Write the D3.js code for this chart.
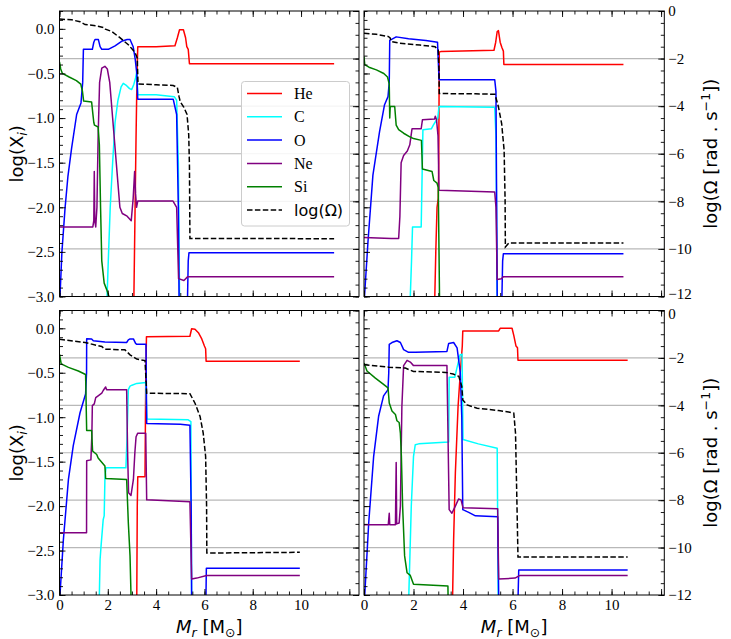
<!DOCTYPE html>
<html>
<head>
<meta charset="utf-8">
<script src="https://cdn.jsdelivr.net/npm/d3@7"></script>
<style>
  body { margin: 0; background: #fff; }
</style>
</head>
<body>
<svg id="chart" width="731" height="639"></svg>
<script>
// ---- top left model ----
const heTL = [[3.08,-3],[3.12,-2.2],[3.17,-1.2],[3.21,-0.5],[3.24,-0.2],[4.0,-0.2],[4.78,-0.19],[4.88,-0.1],[4.97,-0.01],[5.13,-0.01],[5.22,-0.1],[5.27,-0.2],[5.33,-0.23],[5.38,-0.39],[11.37,-0.39]];
const cTL = [[1.97,-3],[2.02,-2.6],[2.1,-2.0],[2.2,-1.5],[2.3,-1.05],[2.42,-0.8],[2.55,-0.65],[2.64,-0.61],[2.75,-0.63],[2.9,-0.67],[2.99,-0.68],[3.08,-0.62],[3.15,-0.55],[3.2,-0.48],[3.24,-0.74],[4.0,-0.74],[4.75,-0.76],[4.85,-0.8],[4.92,-1.5],[4.97,-3],[5.0,-3.3]];
const oTL = [[0.0,-3.2],[0.02,-3],[0.1,-2.5],[0.23,-2.01],[0.35,-1.65],[0.5,-1.34],[0.71,-0.96],[0.89,-0.83],[0.96,-0.6],[0.99,-0.23],[1.36,-0.23],[1.42,-0.15],[1.47,-0.12],[1.61,-0.12],[1.68,-0.2],[1.75,-0.23],[2.02,-0.23],[2.3,-0.19],[2.57,-0.14],[2.8,-0.12],[2.92,-0.12],[3.05,-0.2],[3.13,-0.33],[3.2,-0.5],[3.24,-0.79],[4.71,-0.79],[4.85,-0.96],[4.92,-2.0],[4.95,-3],[5.0,-3.3],[5.28,-3.3],[5.33,-2.6],[5.36,-2.51],[11.37,-2.51]];
const neTL = [[0,-2.22],[1.38,-2.22],[1.42,-2.15],[1.44,-1.6],[1.46,-2.15],[1.5,-2.22],[1.55,-2.0],[1.6,-1.2],[1.66,-0.6],[1.75,-0.44],[1.88,-0.42],[1.98,-0.45],[2.08,-0.6],[2.2,-1.0],[2.35,-1.5],[2.5,-2.0],[2.6,-2.07],[2.8,-2.1],[2.97,-2.15],[3.05,-1.9],[3.11,-1.6],[3.15,-1.85],[3.19,-2.0],[3.24,-1.93],[4.7,-1.93],[4.85,-2.0],[4.93,-2.8],[5.15,-2.82],[5.3,-2.78],[11.37,-2.78]];
const siTL = [[0,-0.37],[0.05,-0.45],[0.12,-0.5],[0.4,-0.54],[0.7,-0.58],[0.88,-0.62],[0.95,-0.7],[1.0,-0.81],[1.33,-0.82],[1.38,-0.95],[1.42,-1.05],[1.45,-1.08],[1.6,-1.1],[1.65,-1.3],[1.7,-2.0],[1.75,-2.6],[1.85,-2.85],[1.95,-2.92],[2.05,-3.0],[2.1,-3.3]];
const omTL = [[0,-0.34],[0.5,-0.37],[0.85,-0.45],[0.95,-0.51],[1.06,-0.57],[1.5,-0.62],[1.85,-0.7],[1.9,-0.76],[2.16,-0.86],[2.5,-1.12],[2.85,-1.42],[3.05,-1.65],[3.15,-1.8],[3.22,-1.98],[3.25,-3.07],[4.0,-3.1],[4.71,-3.13],[4.88,-3.22],[4.95,-3.6],[5.0,-3.82],[5.15,-4.05],[5.28,-4.35],[5.35,-5.2],[5.38,-6.5],[5.4,-9.56],[11.37,-9.57]];

// ---- top right model ----
const heTR = [[2.86,-3],[2.9,-2.5],[2.95,-2.0],[3.0,-1.9],[3.02,-1.5],[3.04,-0.26],[3.1,-0.255],[5.25,-0.24],[5.32,-0.15],[5.38,-0.03],[5.43,-0.02],[5.5,-0.15],[5.57,-0.21],[5.63,-0.25],[5.65,-0.40],[10.48,-0.40]];
const cTR = [[1.87,-3],[1.92,-2.6],[1.96,-2.22],[2.31,-2.22],[2.38,-1.13],[2.72,-1.12],[2.8,-1.08],[2.91,-1.03],[2.98,-1.0],[3.03,-0.87],[5.28,-0.88],[5.33,-1.2],[5.38,-3],[5.4,-3.3]];
const oTR = [[0.0,-3.2],[0.02,-3],[0.16,-2.39],[0.36,-1.64],[0.63,-1.15],[0.83,-0.85],[0.97,-0.76],[1.02,-0.6],[1.04,-0.13],[1.3,-0.09],[1.8,-0.11],[2.5,-0.13],[2.97,-0.15],[3.03,-0.57],[5.28,-0.57],[5.33,-0.7],[5.38,-3],[5.45,-3.3],[5.55,-3.3],[5.6,-2.6],[5.63,-2.52],[10.48,-2.52]];
const neTR = [[0,-2.34],[1.1,-2.35],[1.4,-2.35],[1.45,-2.1],[1.5,-1.5],[1.6,-1.42],[1.75,-1.37],[1.85,-1.3],[1.9,-1.2],[1.94,-1.12],[2.31,-1.12],[2.36,-1.02],[2.85,-1.01],[2.88,-0.98],[2.93,-1.02],[2.99,-1.2],[3.03,-1.81],[5.28,-1.83],[5.33,-2.0],[5.38,-2.81],[5.55,-2.8],[5.62,-2.78],[10.48,-2.78]];
const siTR = [[0,-0.31],[0.03,-0.40],[0.2,-0.43],[0.5,-0.46],[0.8,-0.5],[0.95,-0.54],[1.02,-0.62],[1.04,-1.0],[1.06,-0.87],[1.24,-0.87],[1.3,-1.08],[1.4,-1.13],[1.6,-1.17],[1.85,-1.21],[2.0,-1.23],[2.32,-1.25],[2.36,-1.57],[2.75,-1.6],[2.82,-1.7],[2.95,-1.73],[3.0,-1.78],[3.03,-2.5],[3.05,-3.0],[3.07,-3.3]];
const omTR = [[0,-0.93],[0.5,-0.98],[0.97,-1.07],[1.05,-1.12],[1.1,-1.28],[1.45,-1.36],[2.26,-1.43],[2.87,-1.5],[3.0,-1.64],[3.03,-2.5],[3.04,-3.47],[4.5,-3.48],[5.29,-3.5],[5.43,-4.03],[5.56,-4.73],[5.66,-5.85],[5.7,-8.0],[5.71,-9.92],[5.85,-9.75],[10.48,-9.75]];

// ---- bottom left model ----
const heBL = [[3.2,-3],[3.22,-2.0],[3.24,-1.67],[3.54,-1.67],[3.57,-0.6],[3.6,-0.094],[5.4,-0.09],[5.47,-0.005],[5.61,-0.01],[5.75,-0.05],[5.89,-0.12],[6.0,-0.2],[6.05,-0.23],[6.07,-0.37],[9.95,-0.37]];
const cBL = [[1.65,-3],[1.68,-2.6],[1.72,-2.45],[1.81,-2.15],[1.85,-2.11],[1.88,-1.7],[1.92,-1.57],[2.75,-1.57],[2.8,-1.2],[2.85,-0.69],[2.92,-0.65],[3.0,-0.64],[3.2,-0.62],[3.57,-0.61],[3.62,-1.02],[5.33,-1.03],[5.44,-1.05],[5.47,-3],[5.5,-3.3]];
const oBL = [[0.0,-3.2],[0.02,-3],[0.16,-2.38],[0.37,-1.70],[0.57,-1.32],[0.85,-0.95],[1.08,-0.74],[1.12,-0.5],[1.125,-0.117],[1.33,-0.12],[1.4,-0.14],[1.88,-0.155],[2.78,-0.16],[2.85,-0.13],[2.92,-0.12],[3.06,-0.12],[3.15,-0.17],[3.2,-0.18],[3.58,-0.18],[3.61,-1.07],[5.0,-1.08],[5.4,-1.09],[5.45,-2.0],[5.47,-3],[5.5,-3.3],[6.05,-3.3],[6.08,-2.7],[9.95,-2.7]];
const neBL = [[0,-2.30],[1.12,-2.30],[1.125,-1.49],[1.3,-1.48],[1.34,-1.2],[1.36,-0.87],[1.44,-0.85],[1.5,-0.78],[1.6,-0.76],[1.75,-0.73],[1.81,-0.7],[1.91,-0.66],[1.95,-0.69],[2.78,-0.69],[2.82,-1.4],[2.86,-1.85],[2.96,-1.88],[3.06,-1.7],[3.12,-1.4],[3.17,-1.22],[3.24,-1.18],[3.57,-1.18],[3.61,-1.93],[5.4,-1.95],[5.47,-2.82],[5.68,-2.81],[6.09,-2.78],[9.95,-2.78]];
const siBL = [[0,-0.29],[0.07,-0.40],[0.37,-0.44],[0.78,-0.48],[1.08,-0.52],[1.125,-1.15],[1.33,-1.15],[1.37,-1.38],[1.54,-1.42],[1.6,-1.46],[1.88,-1.55],[1.91,-1.69],[2.78,-1.70],[2.85,-2.19],[2.92,-2.56],[2.96,-3.0],[3.0,-3.3]];
const omBL = [[0,-1.21],[1.06,-1.35],[1.75,-1.52],[1.88,-1.63],[2.71,-1.66],[2.92,-1.87],[3.2,-2.05],[3.54,-2.11],[3.61,-3.49],[5.4,-3.51],[5.61,-3.91],[5.82,-4.47],[5.95,-5.17],[6.05,-6.16],[6.09,-8.26],[6.1,-10.23],[9.95,-10.2]];

// ---- bottom right model ----
const heBR = [[3.58,-3],[3.62,-2.38],[3.69,-1.63],[3.8,-0.88],[3.89,-0.5],[3.97,-0.2],[3.99,-0.03],[5.44,-0.03],[5.5,0.0],[5.98,0.0],[6.05,-0.08],[6.14,-0.2],[6.2,-0.22],[6.22,-0.36],[10.65,-0.36]];
const cBR = [[1.81,-3],[1.91,-2.0],[2.0,-1.44],[2.07,-1.31],[2.21,-1.3],[3.42,-1.28],[3.44,-0.55],[3.67,-0.55],[3.75,-0.45],[3.88,-0.3],[3.96,-0.29],[4.0,-1.25],[4.62,-1.3],[5.38,-1.35],[5.42,-3],[5.45,-3.3]];
const oBR = [[0.0,-3.2],[0.03,-3.0],[0.19,-2.19],[0.39,-1.44],[0.59,-0.99],[0.79,-0.76],[0.97,-0.69],[1.0,-0.5],[1.02,-0.18],[1.13,-0.16],[1.33,-0.14],[1.47,-0.16],[1.6,-0.24],[1.8,-0.27],[2.07,-0.27],[3.35,-0.26],[3.42,-0.17],[3.62,-0.16],[3.76,-0.22],[3.89,-0.5],[3.95,-1.0],[3.99,-2.04],[4.23,-2.07],[4.5,-2.11],[5.4,-2.12],[5.44,-3],[5.5,-3.3],[6.2,-3.3],[6.25,-2.72],[10.65,-2.72]];
const neBR = [[0,-2.21],[0.98,-2.21],[1.02,-2.08],[1.04,-2.21],[1.27,-2.21],[1.3,-1.51],[1.32,-2.2],[1.42,-2.19],[1.47,-2.0],[1.53,-0.88],[1.6,-0.42],[1.74,-0.36],[1.87,-0.38],[2.0,-0.42],[3.35,-0.42],[3.44,-2.04],[3.55,-2.08],[3.69,-2.0],[3.82,-1.92],[3.92,-1.93],[4.0,-2.02],[5.4,-2.03],[5.44,-2.82],[6.1,-2.81],[6.3,-2.78],[10.65,-2.78]];
const siBR = [[0,-0.39],[0.12,-0.48],[0.46,-0.56],[0.79,-0.63],[0.97,-0.67],[1.02,-0.84],[1.13,-0.93],[1.27,-0.97],[1.33,-1.04],[1.42,-1.06],[1.47,-1.18],[1.51,-1.44],[1.56,-2.0],[1.64,-2.56],[1.74,-2.75],[1.87,-2.78],[2.0,-2.88],[3.39,-2.9],[3.41,-3.3]];
const omBR = [[0,-2.29],[1.0,-2.39],[1.67,-2.43],[2.0,-2.57],[3.29,-2.61],[3.6,-2.68],[3.83,-2.78],[3.95,-3.2],[3.99,-3.77],[4.16,-3.98],[4.57,-4.12],[5.44,-4.22],[5.84,-4.28],[6.05,-4.33],[6.12,-5.17],[6.18,-8.26],[6.22,-10.4],[10.65,-10.4]];

// ---- species / ticks ----
const species = ['He', 'C', 'O', 'Ne', 'Si'];
const speciesColors = ['#ff0000', '#00ffff', '#0000ff', '#800080', '#008000'];
const xMajorTicks = [0, 2, 4, 6, 8, 10, 12];
const xTickLabels = [0, 2, 4, 6, 8, 10];
const abundTicks = [-3.0, -2.5, -2.0, -1.5, -1.0, -0.5, 0.0];
const omegaTicks = [-12, -10, -8, -6, -4, -2, 0];

const svg = d3.select('#chart');
const serif = "'Liberation Serif', 'Times New Roman', serif";
const sans = "'DejaVu Sans', sans-serif";

const panels = [
	{ id: 'tl', left: 59.5, right: 359, top: 11, bottom: 296.5, xMax: 12.4, curves: [heTL, cTL, oTL, neTL, siTL], omega: omTL, leftLabels: true, bottomLabels: false, legend: true },
	{ id: 'tr', left: 364, right: 664.3, top: 11, bottom: 296.5, xMax: 12.13, curves: [heTR, cTR, oTR, neTR, siTR], omega: omTR, leftLabels: false, bottomLabels: false },
	{ id: 'bl', left: 59.5, right: 359, top: 310.5, bottom: 595, xMax: 12.4, curves: [heBL, cBL, oBL, neBL, siBL], omega: omBL, leftLabels: true, bottomLabels: true },
	{ id: 'br', left: 364, right: 664.3, top: 310.5, bottom: 595, xMax: 12.13, curves: [heBR, cBR, oBR, neBR, siBR], omega: omBR, leftLabels: false, bottomLabels: true }
];

function range(a, b, step) {
	const out = [];
	for (let v = a; v <= b + 1e-9; v += step) out.push(Math.round(v * 100) / 100);
	return out;
}

function styleAxis(sel) {
	sel.select('.domain').remove();
	sel.selectAll('line').attr('stroke', '#000').attr('stroke-width', 0.9);
	sel.selectAll('text').attr('font-family', serif).attr('font-size', 15).attr('fill', '#000');
	return sel;
}

panels.forEach((p, k) => {
	const g = svg.append('g');
	const x = d3.scaleLinear().domain([0, p.xMax]).range([p.left, p.right]);
	const yL = d3.scaleLinear().domain([-3, 0.2]).range([p.bottom, p.top]);
	const yR = d3.scaleLinear().domain([-12, 0]).range([p.bottom, p.top]);

	// grid of the omega axis
	g.append('g').selectAll('line')
		.data(omegaTicks.filter(d => d > -12 && d < 0))
		.join('line')
		.attr('x1', p.left).attr('x2', p.right)
		.attr('y1', d => yR(d)).attr('y2', d => yR(d))
		.attr('stroke', '#b8b8b8').attr('stroke-width', 1.1);

	g.append('clipPath').attr('id', 'clip-' + p.id)
		.append('rect')
		.attr('x', p.left).attr('y', p.top)
		.attr('width', p.right - p.left).attr('height', p.bottom - p.top);

	const plot = g.append('g').attr('clip-path', `url(#clip-${p.id})`);
	const lineL = d3.line().x(d => x(d[0])).y(d => yL(d[1]));
	const lineR = d3.line().x(d => x(d[0])).y(d => yR(d[1]));

	plot.selectAll('path.abund')
		.data(p.curves)
		.join('path')
		.attr('class', 'abund')
		.attr('d', d => lineL(d))
		.attr('fill', 'none')
		.attr('stroke', (d, i) => speciesColors[i])
		.attr('stroke-width', 1.5)
		.attr('stroke-linejoin', 'round');

	plot.append('path')
		.attr('d', lineR(p.omega))
		.attr('fill', 'none')
		.attr('stroke', '#000')
		.attr('stroke-width', 1.5)
		.attr('stroke-dasharray', '5.5,2.4');

	// axes, ticks pointing in
	styleAxis(g.append('g').attr('transform', `translate(0,${p.bottom})`)
		.call(d3.axisBottom(x).tickValues(xMajorTicks.filter(d => d <= p.xMax)).tickSize(-6).tickPadding(4)
			.tickFormat(d => (p.bottomLabels && xTickLabels.includes(d)) ? d : '')));
	styleAxis(g.append('g').attr('transform', `translate(0,${p.bottom})`)
		.call(d3.axisBottom(x).tickValues(range(0, p.xMax, 0.5)).tickSize(-3.5).tickFormat('')));
	styleAxis(g.append('g').attr('transform', `translate(0,${p.top})`)
		.call(d3.axisTop(x).tickValues(xMajorTicks.filter(d => d <= p.xMax)).tickSize(-6).tickFormat('')));
	styleAxis(g.append('g').attr('transform', `translate(0,${p.top})`)
		.call(d3.axisTop(x).tickValues(range(0, p.xMax, 0.5)).tickSize(-3.5).tickFormat('')));

	styleAxis(g.append('g').attr('transform', `translate(${p.left},0)`)
		.call(d3.axisLeft(yL).tickValues(abundTicks).tickSize(-6).tickPadding(5)
			.tickFormat(p.leftLabels ? d3.format('.1f') : '')));
	styleAxis(g.append('g').attr('transform', `translate(${p.left},0)`)
		.call(d3.axisLeft(yL).tickValues(range(-3, 0.2, 0.1)).tickSize(-3.5).tickFormat('')));

	const rightAxis = styleAxis(g.append('g').attr('transform', `translate(${p.right},0)`)
		.call(d3.axisRight(yR).tickValues(omegaTicks).tickSize(-6).tickPadding(4)
			.tickFormat(p.leftLabels ? '' : d3.format('d'))));
	// keep the -12 of the upper panel and the 0 of the lower one apart
	rightAxis.selectAll('.tick text')
		.filter(d => (k === 1 && d === -12) || (k === 3 && d === 0))
		.attr('y', d => d === -12 ? -3 : 3);
	styleAxis(g.append('g').attr('transform', `translate(${p.right},0)`)
		.call(d3.axisRight(yR).tickValues(range(-12, 0, 0.5)).tickSize(-3.5).tickFormat('')));

	g.append('rect')
		.attr('x', p.left).attr('y', p.top)
		.attr('width', p.right - p.left).attr('height', p.bottom - p.top)
		.attr('fill', 'none').attr('stroke', '#000').attr('stroke-width', 1);

	const midY = (p.top + p.bottom) / 2;
	const midX = (p.left + p.right) / 2;

	if (p.leftLabels) {
		const t = g.append('text')
			.attr('transform', `translate(23,${midY}) rotate(-90)`)
			.attr('text-anchor', 'middle')
			.attr('font-family', sans).attr('font-size', 18);
		t.append('tspan').text('log(X');
		t.append('tspan').text('i').attr('font-style', 'italic').attr('font-size', 12.6).attr('dy', 4);
		t.append('tspan').text(')').attr('dy', -4);
	} else {
		const t = g.append('text')
			.attr('transform', `translate(717,${midY}) rotate(-90)`)
			.attr('text-anchor', 'middle')
			.attr('font-family', sans).attr('font-size', 18);
		t.append('tspan').text('log(Ω [rad . s');
		t.append('tspan').text('\u22121').attr('font-size', 12.6).attr('dy', -7);
		t.append('tspan').text('])').attr('dy', 7);
	}

	if (p.bottomLabels) {
		const t = g.append('text')
			.attr('x', midX).attr('y', 633)
			.attr('text-anchor', 'middle')
			.attr('font-family', sans).attr('font-size', 18);
		t.append('tspan').text('M').attr('font-style', 'italic');
		t.append('tspan').text('r').attr('font-style', 'italic').attr('font-size', 12.6).attr('dy', 4);
		t.append('tspan').text(' [M').attr('dy', -4);
		t.append('tspan').text('\u2299').attr('font-size', 12.6).attr('dy', 4);
		t.append('tspan').text(']').attr('dy', -4);
	}

	if (p.legend) {
		const lg = g.append('g');
		lg.append('rect')
			.attr('x', 241.5).attr('y', 81.5).attr('width', 108).attr('height', 144.5)
			.attr('rx', 3)
			.attr('fill', '#fff').attr('fill-opacity', 0.85)
			.attr('stroke', '#cccccc').attr('stroke-width', 1);
		const items = species.map((s, i) => ({ label: s, color: speciesColors[i], dash: null, font: serif }))
			.concat([{ label: 'log(Ω)', color: '#000', dash: '5.5,2.4', font: sans }]);
		const row = lg.selectAll('g.item').data(items).join('g')
			.attr('transform', (d, i) => `translate(0,${93.5 + i * 23.3})`);
		row.append('line')
			.attr('x1', 247).attr('x2', 282).attr('y1', 0).attr('y2', 0)
			.attr('stroke', d => d.color).attr('stroke-width', 1.5)
			.attr('stroke-dasharray', d => d.dash);
		row.append('text')
			.attr('x', 294).attr('y', 5.5)
			.attr('font-family', d => d.font).attr('font-size', 16)
			.text(d => d.label);
	}
});
</script>
</body>
</html>
